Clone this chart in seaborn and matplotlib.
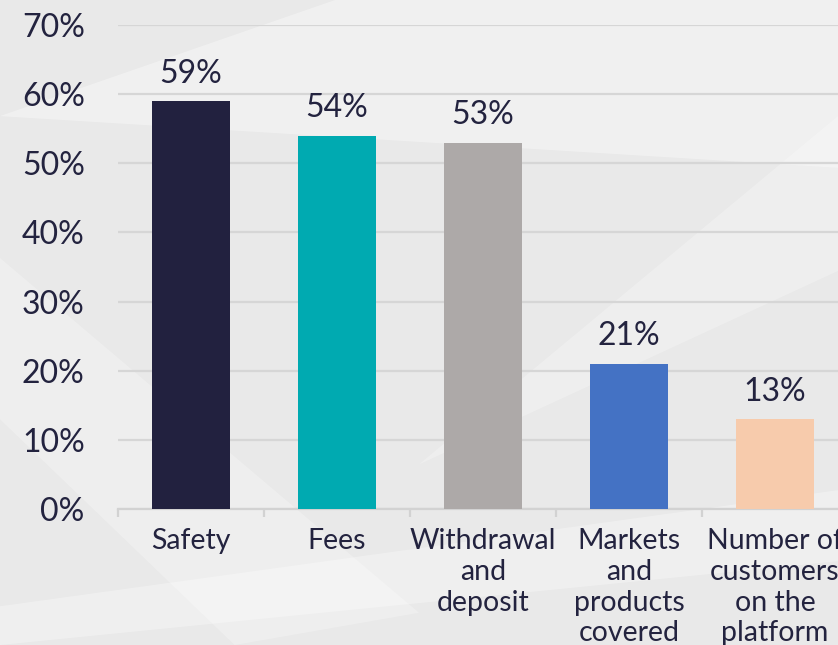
import numpy as np
import pandas as pd
import matplotlib
matplotlib.use("Agg")
import matplotlib.pyplot as plt
from matplotlib.patches import Polygon
from matplotlib.ticker import FixedLocator, FuncFormatter
import seaborn as sns

# Data
categories = ["Safety", "Fees", "Withdrawal\nand\ndeposit",
              "Markets\nand\nproducts\ncovered", "Number of\ncustomers\non the\nplatform"]
shares = [59, 54, 53, 21, 13]
bar_colors = ["#22213f", "#00aab1", "#ada9a8", "#4472c4", "#f7cbac"]

df = pd.DataFrame({"category": categories, "share": shares})

sns.set_theme(style="white")
plt.rcParams["font.family"] = ["Lato", "DejaVu Sans"]
text_color = "#23233f"

fig = plt.figure(figsize=(8.38, 6.45), dpi=100)
fig.patch.set_facecolor("#e9e9e9")

# background axes with faint lighter shapes
bg = fig.add_axes([0, 0, 1, 1], zorder=-10)
bg.set_xlim(0, 1)
bg.set_ylim(0, 1)
bg.axis("off")
for pts, a in [
    ([(0.0, 0.82), (0.40, 1.0), (1.0, 1.0), (1.0, 0.74)], 0.35),
    ([(0.0, 0.35), (0.0, 0.60), (0.50, 0.05), (0.28, 0.0)], 0.25),
    ([(0.50, 0.28), (1.0, 0.82), (1.0, 0.58)], 0.25),
    ([(0.0, 0.06), (1.0, 0.24), (1.0, 0.13), (0.0, 0.0)], 0.3),
]:
    bg.add_patch(Polygon(pts, closed=True, facecolor="white", edgecolor="none", alpha=a))

ax = fig.add_axes([0.1408, 0.2109, 0.8712, 0.7503])
ax.patch.set_alpha(0)

sns.barplot(data=df, x="category", y="share", hue="category", palette=bar_colors,
            legend=False, width=0.534, saturation=1, linewidth=0, ax=ax, zorder=3)

ax.set_ylim(0, 70)
ax.set_xlim(-0.5, len(categories) - 0.5)
ax.yaxis.set_major_locator(FixedLocator(np.arange(0, 71, 10)))
ax.yaxis.set_major_formatter(FuncFormatter(lambda v, _: f"{v:.0f}%"))
ax.grid(axis="y", color="#d6d6d6", linewidth=1.6, zorder=0)
ax.set_axisbelow(True)

for s in ["top", "right", "left"]:
    ax.spines[s].set_visible(False)
ax.spines["bottom"].set_color("#d2d2d2")
ax.spines["bottom"].set_linewidth(1.6)

ax.tick_params(axis="y", length=0, pad=24, labelsize=23, labelcolor=text_color)
ax.tick_params(axis="x", which="major", length=0, pad=14, labelsize=20.5, labelcolor=text_color)
ax.set_xticks(np.arange(-0.5, len(categories), 1), minor=True)
ax.tick_params(axis="x", which="minor", length=6, width=1.6, color="#d2d2d2", bottom=True)
for lbl in ax.get_xticklabels():
    lbl.set_linespacing(1.22)
    lbl.set_verticalalignment("top")

ax.set_xlabel("")
ax.set_ylabel("")

for i, v in enumerate(shares):
    ax.annotate(f"{v}%", (i, v), xytext=(0, 9), textcoords="offset points",
                ha="center", va="bottom", fontsize=23, color=text_color)

fig.savefig("out.png", dpi=100, facecolor=fig.get_facecolor())
